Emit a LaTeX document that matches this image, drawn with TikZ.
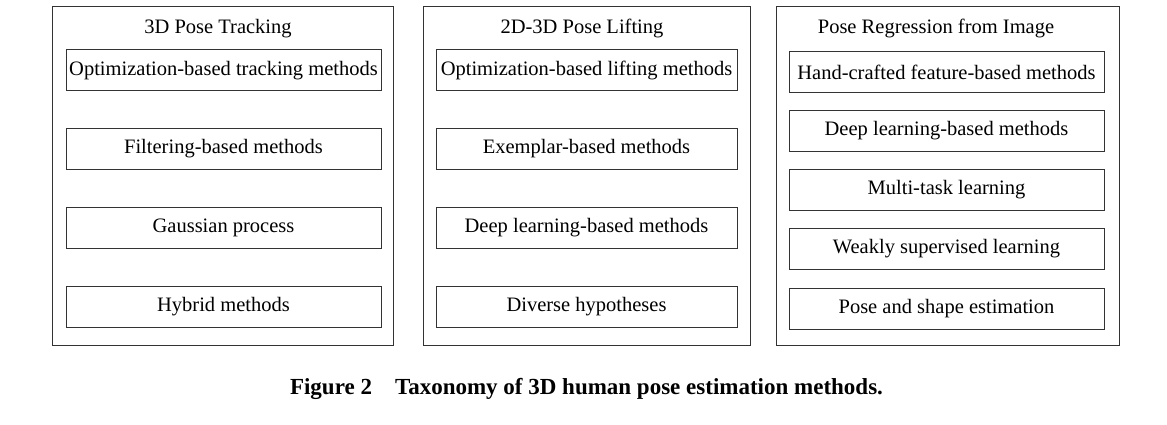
\documentclass[tikz,border=0pt]{standalone}
\usepackage{fontspec}
\setmainfont{Liberation Serif}
\usepackage{tikz}

\begin{document}
\begin{tikzpicture}[x=1pt,y=-1pt,
  outerbox/.style={draw=black!80,line width=1pt,inner sep=0pt},
  methodbox/.style={draw=black!80,line width=1pt,inner sep=0pt,minimum height=41pt,font=\fontsize{20.5}{22}\selectfont},
  titletext/.style={inner sep=0pt,font=\fontsize{20.5}{22}\selectfont}]
\useasboundingbox (0,0) rectangle (1167,425);

%okvirji
\node[outerbox,minimum width=341pt,minimum height=338pt] (tracking) at (222.5,176) {};
\node[outerbox,minimum width=327pt,minimum height=338pt] (lifting) at (586.5,176) {};
\node[outerbox,minimum width=343pt,minimum height=338pt] (regression) at (947.5,176) {};

%naslovi
\node[titletext] (trackingtitle) at (218,28.5) {3D Pose Tracking};
\node[titletext] (liftingtitle) at (582,28.5) {2D-3D Pose Lifting};
\node[titletext] (regressiontitle) at (936,28.5) {Pose Regression from Image};

%3D Pose Tracking
\node[methodbox,minimum width=315pt] (optitrack) at (223.5,70.5) {Optimization-based tracking methods};
\node[methodbox,minimum width=315pt] (filter) at (223.5,149) {Filtering-based methods};
\node[methodbox,minimum width=315pt] (gauss) at (223.5,228) {Gaussian process};
\node[methodbox,minimum width=315pt] (hybrid) at (223.5,307) {Hybrid methods};

%2D-3D Pose Lifting
\node[methodbox,minimum width=301pt] (optilift) at (586.5,70.5) {Optimization-based lifting methods};
\node[methodbox,minimum width=301pt] (exemplar) at (586.5,149) {Exemplar-based methods};
\node[methodbox,minimum width=301pt] (deeplift) at (586.5,228) {Deep learning-based methods};
\node[methodbox,minimum width=301pt] (diverse) at (586.5,307) {Diverse hypotheses};

%Pose Regression from Image
\node[methodbox,minimum width=315pt] (handcraft) at (946.5,72.5) {Hand-crafted feature-based methods};
\node[methodbox,minimum width=315pt] (deepreg) at (946.5,131) {Deep learning-based methods};
\node[methodbox,minimum width=315pt] (multitask) at (946.5,190) {Multi-task learning};
\node[methodbox,minimum width=315pt] (weakly) at (946.5,249) {Weakly supervised learning};
\node[methodbox,minimum width=315pt] (shape) at (946.5,308.5) {Pose and shape estimation};

%podnapis
\node[inner sep=0pt,font=\fontsize{23}{25}\selectfont\bfseries] (caption) at (586.5,389) {Figure 2\hspace{1em}Taxonomy of 3D human pose estimation methods.};
\end{tikzpicture}
\end{document}
